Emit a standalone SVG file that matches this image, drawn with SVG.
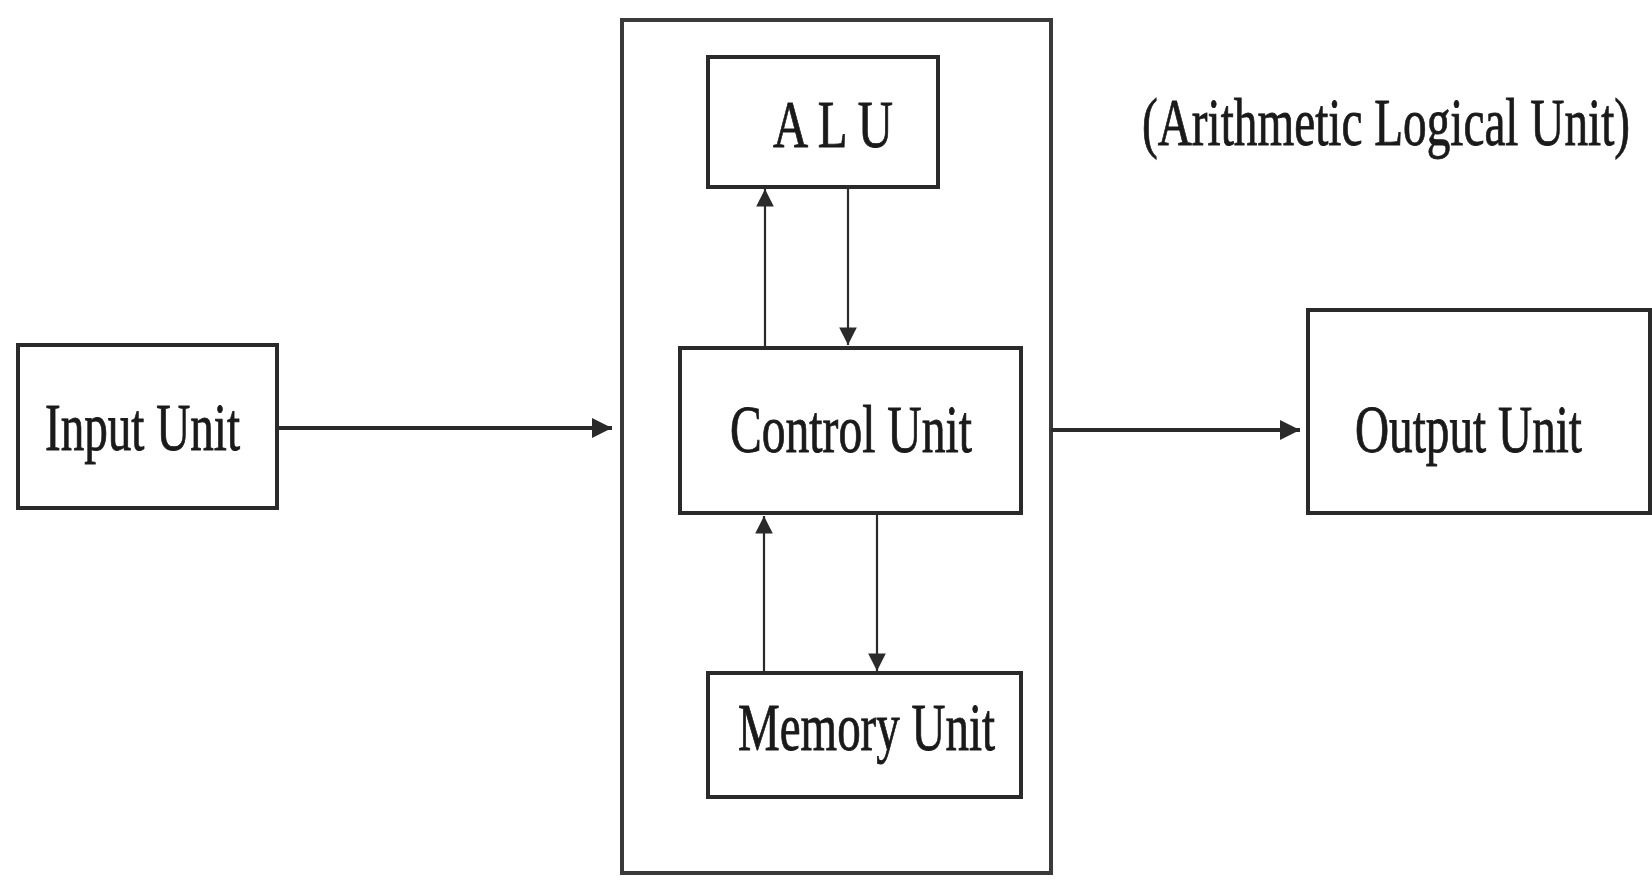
<svg xmlns="http://www.w3.org/2000/svg" width="1652" height="882" viewBox="0 0 1652 882">
<style>
.box{fill:#fff;stroke:#2a2a2a;stroke-width:4}
.outer{fill:none;stroke:#3a3a3a;stroke-width:4}
.lbl{font-family:"Liberation Serif","Times New Roman",serif;font-size:47px;fill:#1a1a1a;stroke:#1a1a1a;stroke-width:0.6}
.thick{stroke:#2a2a2a;stroke-width:4;fill:none}
.thin{stroke:#2a2a2a;stroke-width:2.2;fill:none}
</style>
<defs>
<marker id="ah" viewBox="0 0 10 10" refX="10" refY="5" markerWidth="5" markerHeight="5" markerUnits="strokeWidth" orient="auto">
<path d="M0,0 L10,5 L0,10 z" fill="#2a2a2a"/>
</marker>
<marker id="ahs" viewBox="0 0 10 10" refX="10" refY="5" markerWidth="8" markerHeight="8" markerUnits="strokeWidth" orient="auto">
<path d="M0,0 L10,5 L0,10 z" fill="#2a2a2a"/>
</marker>
</defs>
<rect width="1652" height="882" fill="#fff"/>
<g id="cpu">
<rect class="outer" x="622" y="20" width="429" height="853"/>
</g>
<g id="input-unit">
<rect class="box" x="18" y="345" width="259" height="163"/>
<text class="lbl" transform="translate(45,450) scale(1,1.447)" x="0" y="0" textLength="195" lengthAdjust="spacingAndGlyphs">Input Unit</text>
</g>
<g id="alu">
<rect class="box" x="708" y="57" width="230" height="130"/>
<text class="lbl" transform="translate(773,147) scale(1,1.447)" x="0" y="0" textLength="120" lengthAdjust="spacingAndGlyphs">A L U</text>
</g>
<g id="alu-note">
<text class="lbl" transform="translate(1142,145) scale(1,1.447)" x="0" y="0" textLength="488" lengthAdjust="spacingAndGlyphs">(Arithmetic Logical Unit)</text>
</g>
<g id="control-unit">
<rect class="box" x="680" y="348" width="341" height="165"/>
<text class="lbl" transform="translate(730,452) scale(1,1.447)" x="0" y="0" textLength="242" lengthAdjust="spacingAndGlyphs">Control Unit</text>
</g>
<g id="memory-unit">
<rect class="box" x="708" y="673" width="313" height="124"/>
<text class="lbl" transform="translate(738,750) scale(1,1.447)" x="0" y="0" textLength="257" lengthAdjust="spacingAndGlyphs">Memory Unit</text>
</g>
<g id="output-unit">
<rect class="box" x="1308" y="310" width="342" height="203"/>
<text class="lbl" transform="translate(1355,452) scale(1,1.447)" x="0" y="0" textLength="227" lengthAdjust="spacingAndGlyphs">Output Unit</text>
</g>
<g id="connectors">
<line class="thick" x1="277" y1="428" x2="612" y2="428" marker-end="url(#ah)"/>
<line class="thick" x1="1051" y1="430" x2="1300" y2="430" marker-end="url(#ah)"/>
<line class="thin" x1="765" y1="348" x2="765" y2="189" marker-end="url(#ahs)"/>
<line class="thin" x1="848" y1="187" x2="848" y2="345" marker-end="url(#ahs)"/>
<line class="thin" x1="764" y1="673" x2="764" y2="516" marker-end="url(#ahs)"/>
<line class="thin" x1="877" y1="513" x2="877" y2="671" marker-end="url(#ahs)"/>
</g>
</svg>
